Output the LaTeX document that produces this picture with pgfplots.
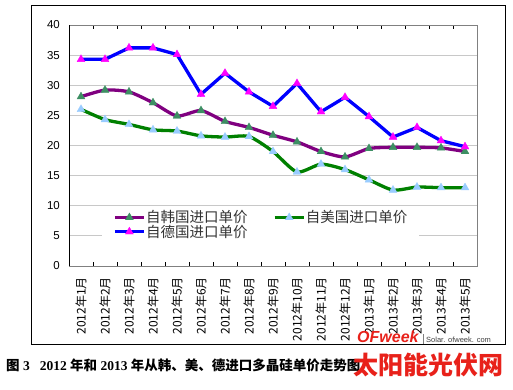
\documentclass[border=0pt]{standalone}
\usepackage{pgfplots}
\pgfplotsset{compat=1.18}
\usepackage{fontspec}
\setmainfont{Liberation Sans}
\newfontfamily\cjk{Noto Sans CJK SC}
\newfontfamily\serifb{Liberation Serif}
\definecolor{gerLine}{HTML}{0000FF}
\definecolor{gerMark}{HTML}{FF00FF}
\definecolor{korLine}{HTML}{800080}
\definecolor{korMark}{HTML}{3D8F63}
\definecolor{usaLine}{HTML}{008000}
\definecolor{usaMark}{HTML}{99CCFF}
\definecolor{wmred}{HTML}{E8211A}
\definecolor{gridc}{HTML}{C8C8C8}
\begin{document}
\begin{tikzpicture}
\useasboundingbox (0,0) rectangle (513bp,390bp);
\fill[white] (0,0) rectangle (513bp,390bp);
\draw[black, line width=0.9bp] (31bp,46bp) rectangle (505bp,385bp);
\begin{axis}[
  at={(69bp,124bp)}, anchor=south west, scale only axis,
  width=408bp, height=241bp,
  xmin=-0.5, xmax=16.5, ymin=0, ymax=40,
  ytick={0,5,...,40},
  xtick={-0.5,0.5,...,16.5},
  x tick label as interval,
  xticklabels={2012年1月,2012年2月,2012年3月,2012年4月,2012年5月,2012年6月,2012年7月,2012年8月,2012年9月,2012年10月,2012年11月,2012年12月,2013年1月,2013年2月,2013年3月,2013年4月,2013年5月},
  xticklabel style={rotate=90, anchor=east, inner sep=0pt, font=\cjk\fontsize{12bp}{12bp}\selectfont},
  xticklabel shift=11bp,
  yticklabel style={inner sep=0pt, font=\fontsize{11.5bp}{12bp}\selectfont},
  yticklabel shift=9bp,
  /pgf/number format/assume math mode=true,
  ymajorgrids,
  major grid style={draw=gridc, line width=0.9bp},
  ytick style={draw=none},
  xtick style={draw=black, line width=0.8bp},
  tick align=inside, major tick length=4bp,
  axis line style={draw=gray, line width=0.8bp},
  legend columns=2,
  legend cell align=left,
  legend style={at={(0.081,0.241)}, anchor=north west, draw=none, fill=white,
    font=\cjk\fontsize{14.5bp}{14.5bp}\selectfont, text=black!80,
    inner xsep=11bp, inner ysep=2bp, row sep=-0.5bp,
    nodes={inner sep=0.5bp},
    /tikz/every even column/.append style={column sep=25bp}},
  legend image code/.code={\draw[mark repeat=2,mark phase=2,#1] plot coordinates {(0bp,0bp) (14.5bp,0bp) (29bp,0bp)};},
]
\addplot[korLine, line width=3.3bp, smooth, tension=0.4, mark=triangle*, mark size=4.6bp,
  mark options={fill=korMark, draw=korMark, line width=0.3bp}]
  coordinates {(0,28.1)(1,29.2)(2,28.9)(3,27.1)(4,24.9)(5,25.8)(6,24.0)(7,23.0)(8,21.7)(9,20.6)(10,19.0)(11,18.1)(12,19.5)(13,19.7)(14,19.7)(15,19.6)(16,19.0)};
\addlegendentry{自韩国进口单价}
\addplot[usaLine, line width=3.3bp, smooth, tension=0.4, mark=triangle*, mark size=4.6bp,
  mark options={fill=usaMark, draw=usaMark, line width=0.3bp}]
  coordinates {(0,26.0)(1,24.3)(2,23.5)(3,22.6)(4,22.4)(5,21.6)(6,21.4)(7,21.5)(8,19.0)(9,15.6)(10,16.9)(11,16.0)(12,14.3)(13,12.6)(14,13.1)(15,13.0)(16,13.0)};
\addlegendentry{自美国进口单价}
\addplot[gerLine, line width=3.3bp, mark=triangle*, mark size=4.6bp,
  mark options={fill=gerMark, draw=gerMark, line width=0.3bp}]
  coordinates {(0,34.3)(1,34.3)(2,36.2)(3,36.2)(4,35.1)(5,28.5)(6,32.0)(7,28.9)(8,26.5)(9,30.3)(10,25.6)(11,28.0)(12,24.8)(13,21.4)(14,23.0)(15,20.8)(16,19.8)};
\addlegendentry{自德国进口单价}
\draw[black, line width=0.9bp] (rel axis cs:0,1) -- (rel axis cs:0,0) -- (rel axis cs:1,0);
\end{axis}
% watermark OFweek
\node[anchor=base west, inner sep=0pt, text=wmred, font=\bfseries\itshape\fontsize{16bp}{16bp}\selectfont] at (357bp,47bp) {OFweek};
\draw[gray, line width=0.5bp] (423bp,46bp) -- (423bp,56bp);
\node[anchor=base west, inner sep=0pt, text=black!75, font=\fontsize{7.5bp}{8bp}\selectfont] at (426bp,47.5bp) {Solar. ofweek. com};
% caption
\node[anchor=base west, inner sep=0pt, font=\fontsize{13.5bp}{14bp}\selectfont] at (6bp,20bp)
  {{\cjk\bfseries 图}{\serifb\bfseries\ 3}\hspace{10bp}{\serifb\bfseries 2012 }{\cjk\bfseries 年和}{\serifb\bfseries\ 2013 }{\cjk\bfseries 年从韩、美、德进口多晶硅单价走势图}};
\node[anchor=center, inner sep=0pt, text=wmred, font=\cjk\bfseries\fontsize{25bp}{26bp}\selectfont] at (428bp,25bp) {太阳能光伏网};
\end{tikzpicture}
\end{document}
